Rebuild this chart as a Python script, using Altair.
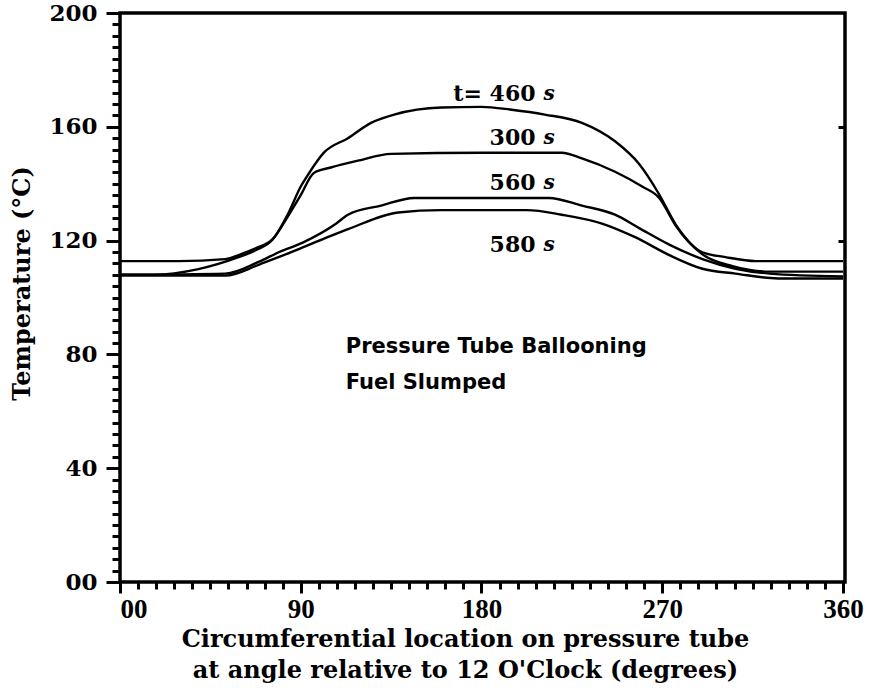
import altair as alt
import pandas as pd

# ---- data ----
angle_460 = [0, 17, 39, 59, 67.5, 76, 84, 90, 93.5, 101.5, 113.5, 125, 136.5, 160, 180, 195,
             211.5, 230, 246.5, 258.5, 268.5, 276.5, 290, 301.5, 316.5, 360]
temp_460 = [108, 108, 110, 114.2, 116.6, 120.4, 129.9, 139, 143, 150.9, 156, 161.4, 164.3, 166.8,
            167, 166, 164.3, 161.4, 154.9, 146.9, 136.2, 125.9, 115.9, 114.2, 112.8, 112.8]

angle_300 = [0, 29, 52.5, 60, 67.5, 76, 84, 90, 96.5, 105, 118.5, 135, 180, 220, 230, 246.5,
             260, 268.5, 276.5, 290, 305, 323.5, 360]
temp_300 = [112.8, 112.8, 113.5, 115.2, 117.3, 120.5, 129, 136, 143.8, 145.7, 148.1, 150.5,
            150.9, 150.9, 148.9, 144.2, 139, 135, 125.5, 115.2, 111, 109.1, 109.1]

angle_560 = [0, 52.5, 69, 79, 91, 107.5, 113.5, 130, 146.5, 213.5, 230, 246.5, 258.5, 273.5,
             290, 306.5, 323.5, 360]
temp_560 = [108, 108.4, 112.5, 115.9, 119.3, 125.9, 129.1, 132.3, 135, 135, 132.3, 129.1,
            124.4, 118.6, 113.5, 110.1, 108.4, 107.4]

angle_580 = [0, 52.5, 69, 79, 91, 107.5, 113.5, 138.5, 160, 202.5, 220, 240, 256.5, 273.5,
             290, 306.5, 327.5, 360]
temp_580 = [107.7, 107.7, 111.5, 114.2, 117.6, 122.4, 124, 129.9, 130.7, 130.7, 129.1, 126,
            121.2, 114.9, 110.1, 108.4, 106.7, 106.7]

series_names = ["460 s", "300 s", "560 s", "580 s"]

curve_labels = ["t= 460", "300", "560", "580"]
curve_label_angle = [206.9, 206.9, 206.9, 206.9]
curve_label_temp = [171.4, 156.0, 140.2, 118.6]

note_lines = ["Pressure Tube Ballooning", "Fuel Slumped"]
note_angle = [112.4, 112.4]
note_temp = [82.7, 70.1]

x_ticks = list(range(0, 361, 9))
y_ticks = list(range(0, 201, 4))
right_ticks = [120, 160]

# ---- tables ----
rows = []
for name, xs, ys in zip(series_names,
                        [angle_460, angle_300, angle_560, angle_580],
                        [temp_460, temp_300, temp_560, temp_580]):
    for a, t in zip(xs, ys):
        rows.append({"series": name, "angle": a, "temp": t})
curves = pd.DataFrame(rows)

labels_df = pd.DataFrame({"label": curve_labels, "angle": curve_label_angle,
                          "temp": curve_label_temp, "unit": ["s"] * 4})
notes_df = pd.DataFrame({"label": note_lines, "angle": note_angle, "temp": note_temp})

x_scale = alt.Scale(domain=[0, 361], nice=False, zero=False)
y_scale = alt.Scale(domain=[0, 200], nice=False, zero=False)

x_axis = alt.Axis(
    values=x_ticks,
    labelExpr="datum.value % 90 == 0 ? (datum.value == 0 ? '00' : datum.label) : ''",
    tickSize={"condition": {"test": "datum.value % 90 == 0", "value": 11}, "value": 7},
    tickWidth=3, tickColor="black", domain=False, grid=False,
    labelFont="Liberation Serif", labelFontWeight="bold", labelFontSize=27,
    labelColor="black", labelPadding=3, labelOverlap=False,
    title=["Circumferential location on pressure tube",
           "at angle relative to 12 O'Clock (degrees)"],
    titleFont="DejaVu Serif", titleFontWeight="bold", titleFontSize=24,
    titleColor="black", titleX=345, titleY=45, titleAlign="center",
    titleBaseline="top", titleLineHeight=31,
)

y_axis = alt.Axis(
    values=y_ticks,
    labelExpr="datum.value % 40 == 0 ? (datum.value == 0 ? '00' : datum.label) : ''",
    tickSize={"condition": {"test": "datum.value % 40 == 0", "value": 14}, "value": 8},
    tickWidth=3, tickColor="black", domain=False, grid=False,
    labelFont="DejaVu Serif", labelFontWeight="bold", labelFontSize=23,
    labelColor="black", labelPadding=9, labelOverlap=False,
    title="Temperature (°C)",
    titleFont="DejaVu Serif", titleFontWeight="bold", titleFontSize=24,
    titleColor="black", titleX=-98, titleY=270, titleAngle=-90,
    titleAlign="center", titleBaseline="middle",
)

lines = alt.Chart(curves).mark_line(color="black", strokeWidth=2.4, interpolate="monotone").encode(
    x=alt.X("angle:Q", scale=x_scale, axis=x_axis),
    y=alt.Y("temp:Q", scale=y_scale, axis=y_axis),
    detail="series:N",
)

num_text = alt.Chart(labels_df).mark_text(
    align="right", baseline="middle", font="DejaVu Serif", fontWeight="bold",
    fontSize=22, color="black",
).encode(
    x=alt.X("angle:Q", scale=x_scale, axis=x_axis),
    y=alt.Y("temp:Q", scale=y_scale, axis=None),
    text="label:N",
)

unit_text = alt.Chart(labels_df).mark_text(
    align="left", baseline="middle", dx=8, font="DejaVu Serif", fontWeight="bold",
    fontStyle="italic", fontSize=20, color="black",
).encode(
    x=alt.X("angle:Q", scale=x_scale, axis=x_axis),
    y=alt.Y("temp:Q", scale=y_scale,
            axis=alt.Axis(orient="right", values=right_ticks, labels=False, tickSize=7,
                          tickWidth=3, tickColor="black", offset=-7, domain=False,
                          grid=False, title=None)),
    text="unit:N",
)

note_text = alt.Chart(notes_df).mark_text(
    align="left", baseline="middle", font="DejaVu Sans", fontWeight="bold",
    fontSize=21, color="black",
).encode(
    x=alt.X("angle:Q", scale=x_scale, axis=x_axis),
    y=alt.Y("temp:Q", scale=y_scale, axis=None),
    text="label:N",
)

chart = alt.layer(lines, num_text, note_text, unit_text).resolve_axis(
    y="independent"
).properties(
    width=725, height=569,
    autosize=alt.AutoSizeParams(type="none"),
    padding={"left": 120, "top": 13, "right": 25, "bottom": 112},
    background="white",
).configure_view(stroke="black", strokeWidth=3.5)

chart.save("out.html", embed_options={"renderer": "svg", "actions": False})
